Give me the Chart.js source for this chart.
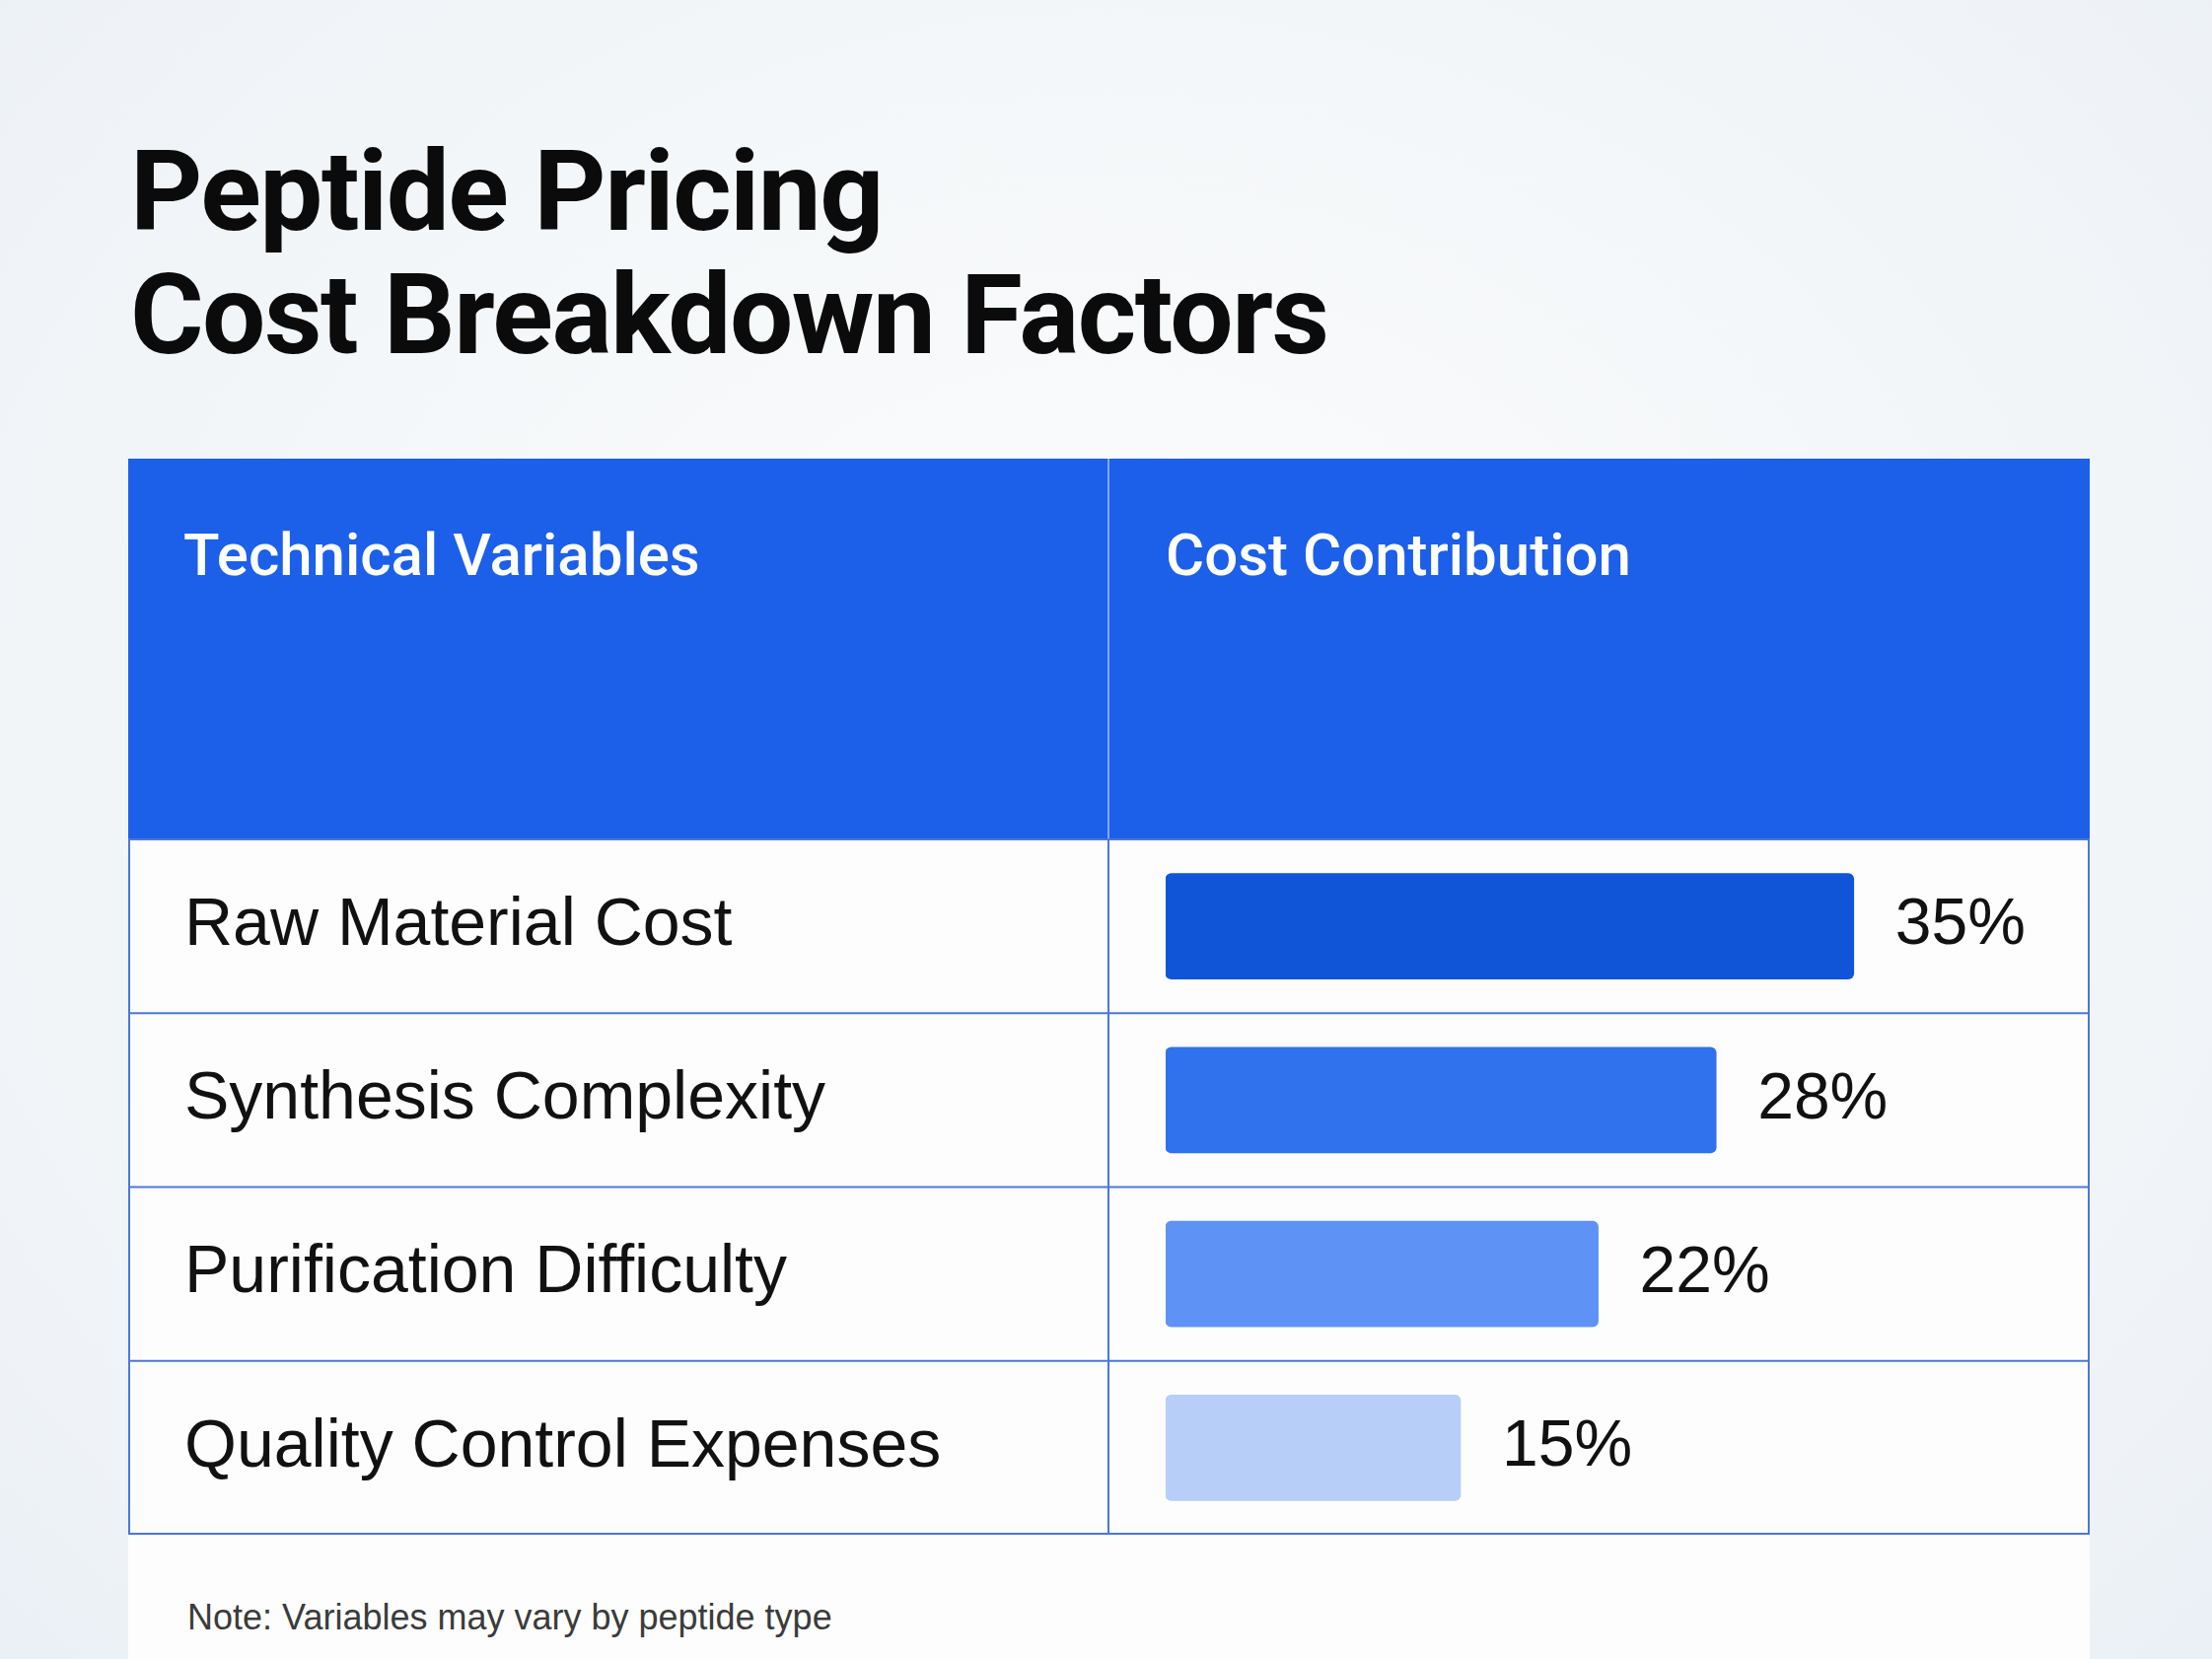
<!DOCTYPE html>
<html>
<head>
<meta charset="utf-8">
<script src="https://cdn.jsdelivr.net/npm/chart.js@4.4.1/dist/chart.umd.min.js"></script>
<style>
  html, body { margin: 0; padding: 0; }
  body {
    width: 2243px; height: 1682px; position: relative; overflow: hidden;
    background: radial-gradient(ellipse at 50% 45%, #fbfcfd 0%, #f4f7f9 55%, #ebf0f6 100%);
    font-family: "Liberation Sans", Arial, sans-serif;
  }
  .title {
    position: absolute; left: 132px; top: 132px; margin: 0;
    font-family: Roboto, sans-serif; font-weight: 700; font-size: 114px;
    line-height: 125px; color: #0b0b0b; letter-spacing: -1.5px;
  }
  .card { position: absolute; left: 130px; top: 465px; width: 1989px; height: 1240px; background: #fdfdfd; }
  .wrap { position: absolute; left: 130px; top: 465px; width: 1989px; height: 1091px; }
  .note { position: absolute; left: 190px; top: 1620px; font-size: 36px; line-height: 40px; color: #3b3b3b; }
</style>
</head>
<body>
<h1 class="title">Peptide Pricing<br>Cost Breakdown Factors</h1>
<div class="card"></div>
<div class="wrap"><canvas id="chart" width="1989" height="1091"></canvas></div>
<div class="note">Note: Variables may vary by peptide type</div>

<script>
const headers = ['Technical Variables', 'Cost Contribution'];
const categories = ['Raw Material Cost', 'Synthesis Complexity', 'Purification Difficulty', 'Quality Control Expenses'];
const costShare = [35, 28, 22, 15];

const barColors = ['#1054d8', '#3071ee', '#5e93f5', '#b7cef9'];
const headerBlue = '#1c5fe9';
const lineBlue = '#4b77d6';
const CELL_PAD = 58; // gap between column divider and bar start
const HEADER_H = 386;

const tableGrid = {
  id: 'tableGrid',
  beforeDraw(chart) {
    const { ctx, chartArea, width } = chart;
    const y = chart.scales.y;
    ctx.save();
    ctx.fillStyle = headerBlue;
    ctx.fillRect(0, 0, width, chartArea.top);
    // thin divider inside the header
    ctx.strokeStyle = 'rgba(200,215,250,0.8)';
    ctx.lineWidth = 1.5;
    ctx.beginPath();
    ctx.moveTo(chartArea.left - CELL_PAD, 0);
    ctx.lineTo(chartArea.left - CELL_PAD, chartArea.top);
    ctx.stroke();
    ctx.fillStyle = '#fff';
    ctx.font = '500 60px Roboto';
    ctx.textBaseline = 'alphabetic';
    ctx.fillText(headers[0], y.left - 1, 118);
    ctx.fillText(headers[1], chartArea.left, 118);
    ctx.restore();
  },
  afterDatasetsDraw(chart) {
    const { ctx } = chart;
    ctx.save();
    ctx.fillStyle = '#111';
    ctx.font = '66px "Liberation Sans"';
    ctx.textBaseline = 'middle';
    chart.getDatasetMeta(0).data.forEach((bar, i) => {
      ctx.fillText(costShare[i] + '%', bar.x + 42, bar.y);
    });
    ctx.restore();
  },
  afterDraw(chart) {
    const { ctx, chartArea, width } = chart;
    const y = chart.scales.y;
    const n = categories.length;
    ctx.save();
    ctx.strokeStyle = lineBlue;
    ctx.lineWidth = 2;
    ctx.beginPath();
    for (let i = 0; i <= n; i++) {
      let yy;
      if (i === 0) yy = chartArea.top;
      else if (i === n) yy = chartArea.bottom - 1;
      else yy = (y.getPixelForTick(i - 1) + y.getPixelForTick(i)) / 2;
      ctx.moveTo(0, yy);
      ctx.lineTo(width, yy);
    }
    // column divider + outer edges of the body
    const colX = chartArea.left - CELL_PAD;
    ctx.moveTo(colX, chartArea.top);
    ctx.lineTo(colX, chartArea.bottom);
    ctx.moveTo(1, chartArea.top);
    ctx.lineTo(1, chartArea.bottom);
    ctx.moveTo(width - 1, chartArea.top);
    ctx.lineTo(width - 1, chartArea.bottom);
    ctx.stroke();
    ctx.restore();
  }
};

new Chart(document.getElementById('chart'), {
  type: 'bar',
  data: {
    labels: categories,
    datasets: [{
      data: costShare,
      backgroundColor: barColors,
      borderRadius: 6,
      borderSkipped: false,
      barThickness: 107
    }]
  },
  options: {
    indexAxis: 'y',
    responsive: false,
    animation: false,
    layout: { padding: { top: HEADER_H, left: 57, right: 0, bottom: 0 } },
    plugins: { legend: { display: false }, tooltip: { enabled: false } },
    scales: {
      x: { display: false, min: 0, max: 47 },
      y: {
        grid: { display: false },
        border: { display: false },
        ticks: {
          color: '#111',
          crossAlign: 'far',
          padding: 0,
          font: { family: 'Liberation Sans', size: 68 }
        },
        afterFit: (scale) => {
          scale.width = 995;
          // rows are table cells, labels never overflow the edges
          scale.paddingTop = 0;
          scale.paddingBottom = 0;
        }
      }
    }
  },
  plugins: [tableGrid]
});
</script>
</body>
</html>
